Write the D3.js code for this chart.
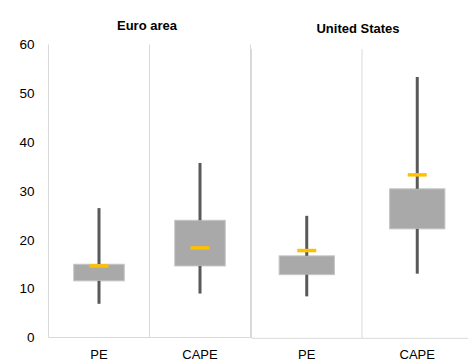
<!DOCTYPE html>
<html><head><meta charset="utf-8">
<script src="https://cdn.jsdelivr.net/npm/d3@7"></script>
<style>body{margin:0;background:#fff;}svg{display:block;font-family:"Liberation Sans",Arial,sans-serif;}</style>
</head><body>
<svg id="c" width="468" height="362"></svg>
<script>
const panels = ["Euro area", "United States"];
const categories = ["PE", "CAPE"];
const yTicks = [0, 10, 20, 30, 40, 50, 60];
// per panel: [PE, CAPE]
const whiskerLow  = [[6.9, 9.0], [8.7, 13.4]];
const boxLow      = [[11.6, 14.65], [13.2, 22.7]];
const boxHigh     = [[15.0, 24.0], [17.1, 31.0]];
const whiskerHigh = [[26.5, 35.75], [25.4, 54.2]];
const meanVal     = [[14.65, 18.35], [18.2, 33.9]];

const svg = d3.select("#c");
const layout = [
  {x0: 48.5, x1: 250.5, yTop: 44.5, yBot: 337.5, titleY: 30},
  {x0: 251.5, x1: 472.5, yTop: 49, yBot: 338.3, titleY: 33}
];
const grid = "#d9d9d9";

layout.forEach((L, p) => {
  const x = d3.scaleBand().domain(categories).range([L.x0, L.x1]);
  const y = d3.scaleLinear().domain([0, 60]).range([L.yBot, L.yTop]);
  const g = svg.append("g");
  g.append("line").attr("x1", L.x0).attr("x2", L.x0).attr("y1", L.yTop).attr("y2", L.yBot).attr("stroke", grid);
  categories.forEach((c, i) => {
    if (i > 0) g.append("line").attr("x1", x(c)).attr("x2", x(c)).attr("y1", L.yTop).attr("y2", L.yBot).attr("stroke", grid);
  });
  g.append("line").attr("x1", L.x1).attr("x2", L.x1).attr("y1", L.yTop).attr("y2", L.yBot).attr("stroke", grid);
  g.append("line").attr("x1", L.x0).attr("x2", L.x1).attr("y1", L.yBot).attr("y2", L.yBot).attr("stroke", grid);

  const bw = x.bandwidth() * 0.5;
  categories.forEach((c, i) => {
    const cx = x(c) + x.bandwidth() / 2;
    g.append("rect").attr("x", cx - bw / 2).attr("width", bw)
      .attr("y", y(boxHigh[p][i])).attr("height", y(boxLow[p][i]) - y(boxHigh[p][i]))
      .attr("fill", "#a9a9a9").attr("stroke", "#c4c4c4").attr("stroke-width", 1);
    g.append("line").attr("x1", cx).attr("x2", cx)
      .attr("y1", y(whiskerHigh[p][i])).attr("y2", y(boxHigh[p][i]))
      .attr("stroke", "#595959").attr("stroke-width", 3);
    g.append("line").attr("x1", cx).attr("x2", cx)
      .attr("y1", y(boxLow[p][i])).attr("y2", y(whiskerLow[p][i]))
      .attr("stroke", "#595959").attr("stroke-width", 3);
    g.append("line").attr("x1", cx - 9.5).attr("x2", cx + 9.5)
      .attr("y1", y(meanVal[p][i])).attr("y2", y(meanVal[p][i]))
      .attr("stroke", "#ffc000").attr("stroke-width", 3.5);
    g.append("text").attr("x", cx).attr("y", 358.5).attr("text-anchor", "middle")
      .attr("font-size", 13).attr("fill", "#000").text(c);
  });
  g.append("text").attr("x", p === 0 ? 147 : 358).attr("y", L.titleY).attr("text-anchor", "middle")
    .attr("font-size", 13).attr("font-weight", "bold").attr("fill", "#000").text(panels[p]);

  if (p === 0) {
    const ax = svg.append("g").attr("transform", `translate(${L.x0},0)`)
      .call(d3.axisLeft(y).tickValues(yTicks).tickSize(0).tickPadding(14));
    ax.select(".domain").remove();
    ax.selectAll("text").attr("font-size", 13.5).attr("fill", "#000")
      .attr("font-family", '"Liberation Sans",Arial,sans-serif');
  }
});
</script>
</body></html>
